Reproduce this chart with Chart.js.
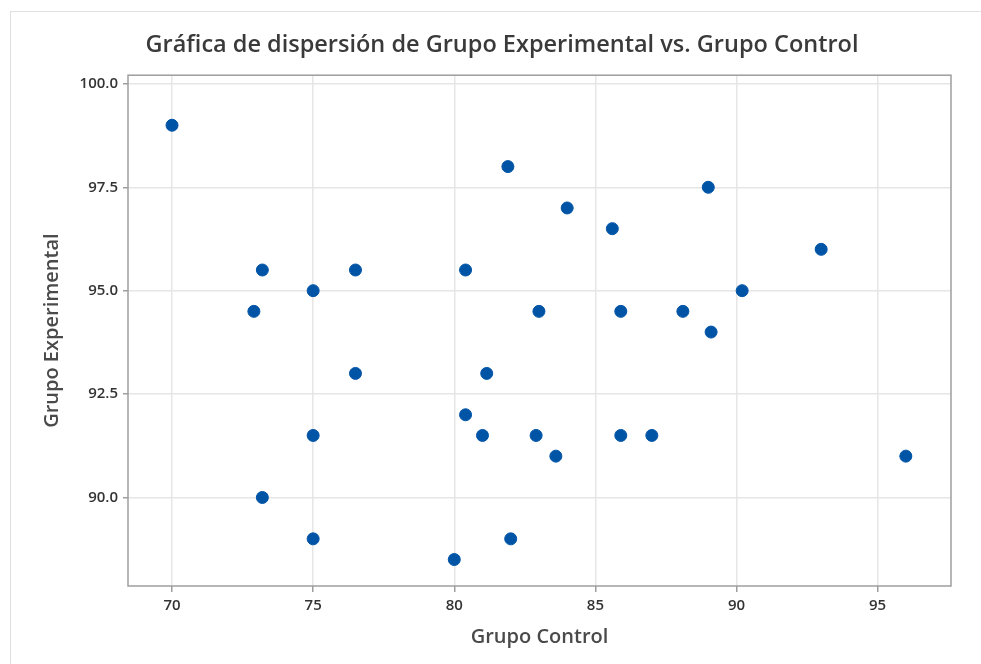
<!DOCTYPE html>
<html lang="es">
<head>
<meta charset="utf-8">
<title>Gráfica de dispersión</title>
<script src="https://cdn.jsdelivr.net/npm/chart.js@4.4.1/dist/chart.umd.min.js"></script>
<style>
    html, body { margin: 0; padding: 0; background: #ffffff; }
    body { width: 981px; height: 664px; position: relative; overflow: hidden; }
    .marco {
        position: absolute; left: 10px; top: 11px; right: 0; bottom: 0;
        border-left: 1px solid #e0e0e0; border-top: 1px solid #e0e0e0;
    }
    #grafica { position: absolute; left: 0; top: 0; }
</style>
</head>
<body>
<div class="marco"></div>
<canvas id="grafica" width="981" height="664"></canvas>
<script>
// Datos (Grupo Control en X, Grupo Experimental en Y)
const grupoControl = [
    70, 81.9, 84, 89, 85.6, 93, 73.2, 76.5, 80.4, 75,
    90.2, 72.9, 83, 85.9, 88.1, 89.1, 76.5, 81.15, 80.4, 75,
    81, 82.9, 85.9, 87, 83.6, 96, 73.2, 75, 82, 80
];
const grupoExperimental = [
    99, 98, 97, 97.5, 96.5, 96, 95.5, 95.5, 95.5, 95,
    95, 94.5, 94.5, 94.5, 94.5, 94, 93, 93, 92, 91.5,
    91.5, 91.5, 91.5, 91.5, 91, 91, 90, 89, 89, 88.5
];
const xTicks = [70, 75, 80, 85, 90, 95];
const yTicks = [90, 92.5, 95, 97.5, 100];

const tituloGrafica = 'Gráfica de dispersión de Grupo Experimental vs. Grupo Control';
const tituloX = 'Grupo Control';
const tituloY = 'Grupo Experimental';

const FONT = '"Open Sans", "Noto Sans", sans-serif';

// Marco completo alrededor del área de trazado
const marcoPlugin = {
    id: 'marcoPlugin',
    beforeDatasetsDraw(chart) {
        const a = chart.chartArea;
        const ctx = chart.ctx;
        ctx.save();
        ctx.strokeStyle = '#9e9e9e';
        ctx.lineWidth = 1.5;
        ctx.strokeRect(a.left, a.top, a.right - a.left, a.bottom - a.top);
        ctx.restore();
    }
};

const puntos = grupoControl.map((x, i) => ({ x: x, y: grupoExperimental[i] }));

const ctx = document.getElementById('grafica').getContext('2d');
new Chart(ctx, {
    type: 'scatter',
    data: {
        datasets: [{
            label: tituloY,
            data: puntos,
            backgroundColor: '#0054a6',
            borderColor: '#0054a6',
            borderWidth: 1,
            pointRadius: 6,
            pointHoverRadius: 6
        }]
    },
    options: {
        responsive: false,
        animation: false,
        layout: { padding: { left: 23, right: 0, top: 0, bottom: 8 } },
        plugins: {
            legend: { display: false },
            tooltip: { enabled: false },
            title: {
                display: true,
                text: tituloGrafica,
                color: '#3a3a3a',
                font: { family: FONT, size: 23.5, weight: '600', lineHeight: 1.2 },
                padding: { top: 31, bottom: 16 }
            }
        },
        scales: {
            x: {
                type: 'linear',
                min: 68.44,
                max: 97.6,
                afterBuildTicks: s => { s.ticks = xTicks.map(v => ({ value: v })); },
                afterFit: s => { s.height = 70; },
                grid: { color: '#e6e6e6', lineWidth: 1.5, tickColor: '#9e9e9e', tickLength: 6, tickWidth: 1.5 },
                border: { display: false },
                ticks: {
                    color: '#333333',
                    padding: 5,
                    maxRotation: 0,
                    font: { family: FONT, size: 15, weight: '600' },
                    callback: v => String(v)
                },
                title: {
                    display: true,
                    text: tituloX,
                    color: '#4a4a4a',
                    font: { family: FONT, size: 20, weight: '600', lineHeight: 1.2 },
                    padding: { top: 0, bottom: 7 }
                }
            },
            y: {
                type: 'linear',
                position: 'left',
                min: 87.86,
                max: 100.21,
                afterBuildTicks: s => { s.ticks = yTicks.map(v => ({ value: v })); },
                afterFit: s => { s.width = 105; },
                grid: { color: '#e6e6e6', lineWidth: 1.5, tickColor: '#9e9e9e', tickLength: 5, tickWidth: 1.5 },
                border: { display: false },
                ticks: {
                    color: '#333333',
                    padding: 5,
                    font: { family: FONT, size: 15, weight: '600' },
                    callback: v => Number(v).toFixed(1)
                },
                title: {
                    display: true,
                    text: tituloY,
                    color: '#4a4a4a',
                    font: { family: FONT, size: 20, weight: '600', lineHeight: 1.2 },
                    padding: { top: 17, bottom: 0 }
                }
            },
            // eje vacío a la derecha solo para dejar el margen
            margenDer: {
                type: 'linear',
                position: 'right',
                display: true,
                grid: { display: false, drawTicks: false },
                border: { display: false },
                ticks: { display: false },
                afterFit: s => { s.width = 30; }
            }
        }
    },
    plugins: [marcoPlugin]
});
</script>
</body>
</html>
